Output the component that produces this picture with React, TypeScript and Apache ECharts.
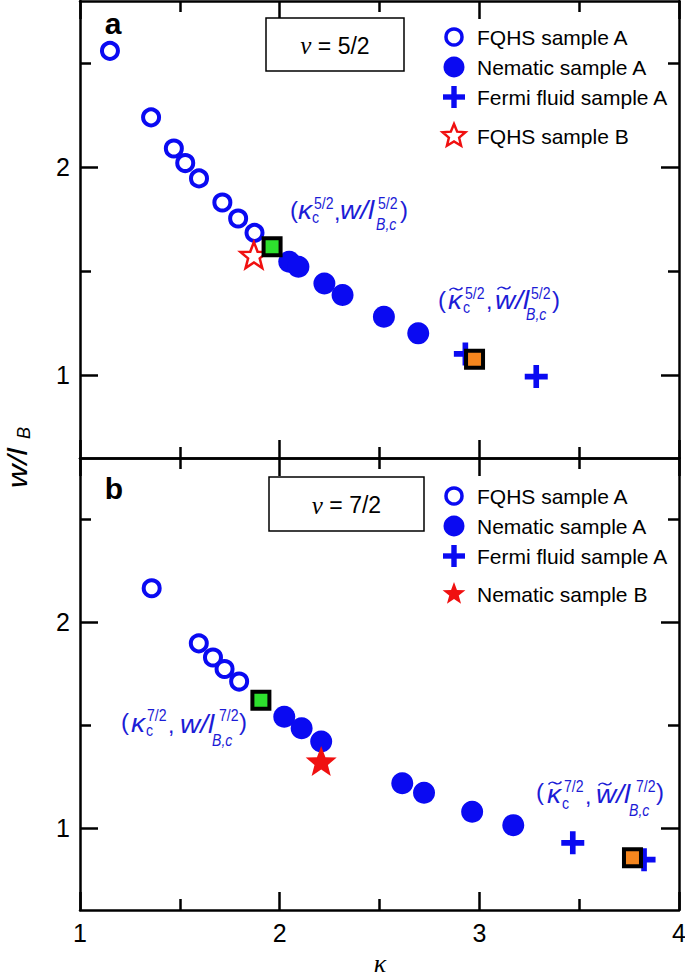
import React, { useEffect, useRef } from "react";
import * as echarts from "echarts";

// ---------- data (kappa, w/l_B) ----------
// panel a : nu = 5/2
const fqhsA_a = [[1.15, 2.56], [1.356, 2.24], [1.47, 2.09], [1.527, 2.02], [1.596, 1.946], [1.713, 1.83], [1.792, 1.753], [1.874, 1.684]];
const nematicA_a = [[2.048, 1.545], [2.094, 1.521], [2.224, 1.44], [2.315, 1.385], [2.522, 1.28], [2.694, 1.2]];
const fermiA_a = [[2.93, 1.101], [3.285, 0.992]];
const fqhsB_a = [[1.871, 1.577]];
const crit_a = [[1.962, 1.617]];
const critTilde_a = [[2.976, 1.075]];
// panel b : nu = 7/2
const fqhsA_b = [[1.359, 2.166], [1.595, 1.898], [1.666, 1.829], [1.724, 1.773], [1.797, 1.712]];
const nematicA_b = [[2.023, 1.541], [2.11, 1.485], [2.208, 1.42], [2.614, 1.217], [2.723, 1.171], [2.964, 1.078], [3.17, 1.013]];
const fermiA_b = [[3.468, 0.927], [3.825, 0.845]];
const nematicB_b = [[2.208, 1.325]];
const crit_b = [[1.906, 1.621]];
const critTilde_b = [[3.767, 0.854]];

const xTickValues = [1, 2, 3, 4];
const yTickLabels = [1, 2];
const yMinorTicks = [1.5, 2.5];
const legendA = ["FQHS sample A", "Nematic sample A", "Fermi fluid sample A", "FQHS sample B"];
const legendB = ["FQHS sample A", "Nematic sample A", "Fermi fluid sample A", "Nematic sample B"];

const BLUE = "#0a0af2";
const ANN = "#1c1cd6";
const RED = "#f01010";
const GREEN = "#2ee02e";
const ORANGE = "#f5861e";
const SANS = "'Liberation Sans', Arial, Helvetica, sans-serif";
const SERIF = "'Liberation Serif', 'Times New Roman', serif";

const STAR = "path://M0,-10L2.6,-3.3L9.511,-3.09L4.1,1.4L5.878,8.09L0,4.2L-5.878,8.09L-4.1,1.4L-9.511,-3.09L-2.6,-3.3Z";
const PLUS = "path://M8.5,0h5.5v8.5h8.5v5.5h-8.5v8.5h-5.5v-8.5h-8.5v-5.5h8.5z";

function starPts(cx: number, cy: number, R: number, r: number) {
  const pts: number[][] = [];
  for (let k = 0; k < 10; k++) {
    const a = (-90 + k * 36) * Math.PI / 180;
    const rr = k % 2 === 0 ? R : r;
    pts.push([cx + rr * Math.cos(a), cy + rr * Math.sin(a)]);
  }
  return pts;
}

const tStyle = (extra: any) => ({
  fontFamily: SANS, align: "left", verticalAlign: "middle", textAlign: "left", textVerticalAlign: "middle", ...extra,
});

type Tok = [string, number, number, number, boolean];
function tokens(list: Tok[]) {
  return list.map(([t, x, y, s, it]) => {
    const main = s >= 25 && t !== "(" && t !== ")" && t !== ",";
    const small = s < 20;
    return {
      type: "text", x, y, z: 50, scaleX: main ? 1.12 : small ? 0.88 : 1,
      style: tStyle({ text: t, fontSize: s, fontStyle: it ? "italic" : "normal", fill: ANN }),
    };
  });
}
function tildes(list: number[][]) {
  return list.map(([cx, cy]) => ({
    type: "bezierCurve", z: 50,
    shape: { x1: cx - 6.5, y1: cy + 1.5, x2: cx + 6.5, y2: cy - 1.5, cpx1: cx - 1.5, cpy1: cy - 5.5, cpx2: cx + 1.5, cpy2: cy + 5.5 },
    style: { stroke: ANN, lineWidth: 1.6, fill: null },
  }));
}

function legendGroup(names: string[], rows: number[], filledStar: boolean) {
  const mx = 454, tx = 477;
  const els: any[] = [
    { type: "circle", shape: { cx: mx, cy: rows[0], r: 8 }, style: { fill: "#fff", stroke: BLUE, lineWidth: 3.5 } },
    { type: "circle", shape: { cx: mx, cy: rows[1], r: 10.5 }, style: { fill: BLUE } },
    { type: "rect", shape: { x: mx - 11, y: rows[2] - 2.7, width: 22, height: 5.4 }, style: { fill: BLUE } },
    { type: "rect", shape: { x: mx - 2.7, y: rows[2] - 11, width: 5.4, height: 22 }, style: { fill: BLUE } },
    {
      type: "polygon", shape: { points: starPts(mx, rows[3], 12, filledStar ? 5 : 5.4) },
      style: filledStar ? { fill: RED } : { fill: "#fff", stroke: RED, lineWidth: 2.5 },
    },
  ];
  names.forEach((n, i) => {
    els.push({ type: "text", x: tx, y: rows[i], style: tStyle({ text: n, fontSize: 21, fill: "#000" }) });
  });
  return els;
}

function nuBox(x: number, y: number, w: number, h: number, label: string) {
  return [
    { type: "rect", shape: { x, y, width: w, height: h }, style: { fill: "#fff", stroke: "#000", lineWidth: 1.5 }, z: 40 },
    {
      type: "text", x: x + w / 2, y: y + h / 2 + 1, z: 41,
      style: {
        text: "{n|ν} = " + label, fontSize: 23, fontFamily: SANS, fill: "#000",
        align: "center", verticalAlign: "middle", textAlign: "center", textVerticalAlign: "middle",
        rich: { n: { fontFamily: SERIF, fontSize: 25, fontStyle: "italic", fill: "#000" } },
      },
    },
  ];
}

const axisLineStyle = { color: "#000", width: 2.5 };

function xAxisDef(gridIndex: number, position: string, showLabel: boolean) {
  return {
    type: "value", gridIndex, position, min: 1, max: 4, interval: 1,
    axisLine: { show: true, lineStyle: axisLineStyle },
    axisTick: { show: true, inside: true, length: 18, lineStyle: axisLineStyle },
    minorTick: { show: true, splitNumber: 2, length: 11, lineStyle: axisLineStyle },
    axisLabel: { show: showLabel, margin: 10, fontSize: 25, color: "#000", fontFamily: SANS, customValues: xTickValues },
    splitLine: { show: false }, minorSplitLine: { show: false },
  };
}
function yMajorDef(gridIndex: number, position: string, showLabel: boolean) {
  return {
    type: "value", gridIndex, position, min: 0.6, max: 2.8,
    axisLine: { show: true, lineStyle: axisLineStyle },
    axisTick: { show: true, inside: true, length: 18, customValues: yTickLabels, lineStyle: axisLineStyle },
    axisLabel: { show: showLabel, customValues: yTickLabels, margin: 10, fontSize: 25, color: "#000", fontFamily: SANS },
    splitLine: { show: false },
  };
}
function yMinorDef(gridIndex: number, position: string) {
  return {
    type: "value", gridIndex, position, min: 0.6, max: 2.8,
    axisLine: { show: false },
    axisTick: { show: true, inside: true, length: 11, customValues: yMinorTicks, lineStyle: axisLineStyle },
    axisLabel: { show: false },
    splitLine: { show: false },
  };
}

function panelSeries(xi: number, yi: number, fqhsA: number[][], nemA: number[][], fermi: number[][], starData: number[][], starName: string, starFilled: boolean, crit: number[][], critT: number[][]) {
  const base = { type: "scatter", xAxisIndex: xi, yAxisIndex: yi, silent: true };
  return [
    { ...base, name: "FQHS sample A", data: fqhsA, symbol: "circle", symbolSize: 16, itemStyle: { color: "#fff", borderColor: BLUE, borderWidth: 4, opacity: 1 }, z: 2 },
    { ...base, name: "Nematic sample A", data: nemA, symbol: "circle", symbolSize: 22, itemStyle: { color: BLUE, opacity: 1 }, z: 3 },
    { ...base, name: "Fermi fluid sample A", data: fermi, symbol: PLUS, symbolSize: 23, itemStyle: { color: BLUE, opacity: 1 }, z: 3 },
    {
      ...base, name: starName, data: starData, symbol: STAR, symbolSize: starFilled ? [31, 30] : [27, 26],
      itemStyle: starFilled ? { color: RED, opacity: 1 } : { color: "#fff", borderColor: RED, borderWidth: 2.5, opacity: 1 }, z: 4,
    },
    { ...base, name: "critical", data: crit, symbol: "rect", symbolSize: 17, itemStyle: { color: GREEN, borderColor: "#000", borderWidth: 4, opacity: 1 }, z: 5 },
    { ...base, name: "critical tilde", data: critT, symbol: "rect", symbolSize: 17, itemStyle: { color: ORANGE, borderColor: "#000", borderWidth: 4, opacity: 1 }, z: 5 },
  ];
}

export default function App() {
  const ref = useRef<HTMLDivElement>(null);
  useEffect(() => {
    document.body.style.margin = "0";
    if (!ref.current) return;
    const chart = echarts.init(ref.current, undefined, { renderer: "svg" });

    const annA1: Tok[] = [
      ["(", 290, 209, 24, false], ["κ", 298, 211, 25, true], ["5/2", 314, 203, 16, false], ["c", 312, 217, 16, false],
      [",", 334, 212, 23, false], ["w/l", 340, 211, 25, true], ["5/2", 378, 203, 16, false], ["B,c", 376, 224, 16, true], [")", 400, 209, 24, false],
    ];
    const annA2: Tok[] = [
      ["(", 438, 299, 24, false], ["κ", 448, 301, 25, true], ["5/2", 465, 293, 16, false], ["c", 463, 307, 16, false],
      [",", 486, 301, 23, false], ["w/l", 495, 301, 25, true], ["5/2", 531, 293, 16, false], ["B,c", 526, 314, 16, true], [")", 552, 299, 24, false],
    ];
    const annB1: Tok[] = [
      ["(", 121, 721, 24, false], ["κ", 131, 724, 25, true], ["7/2", 147, 715, 16, false], ["c", 146, 730, 16, false],
      [",", 168, 725, 23, false], ["w/l", 180, 725, 25, true], ["7/2", 219, 715, 16, false], ["B,c", 212, 740, 16, true], [")", 239, 721, 24, false],
    ];
    const annB2: Tok[] = [
      ["(", 536, 791, 24, false], ["κ", 547, 795, 25, true], ["7/2", 564, 786, 16, false], ["c", 562, 803, 16, false],
      [",", 585, 796, 23, false], ["w/l", 596, 795, 25, true], ["7/2", 636, 786, 16, false], ["B,c", 629, 810, 16, true], [")", 656, 791, 24, false],
    ];

    const graphic: any[] = [
      ...nuBox(266, 18, 138, 53, "5/2"),
      ...nuBox(269, 477, 155, 54, "7/2"),
      ...legendGroup(legendA, [37, 67, 97, 136], false),
      ...legendGroup(legendB, [496, 526, 556, 594], true),
      ...tokens(annA1), ...tokens(annA2), ...tokens(annB1), ...tokens(annB2),
      ...tildes([[456, 289], [504, 288], [555, 783], [605, 784]]),
      { type: "text", x: 113, y: 23, style: { text: "a", fontSize: 30, fontWeight: "bold", fontFamily: SANS, fill: "#000", align: "center", verticalAlign: "middle", textAlign: "center", textVerticalAlign: "middle" } },
      { type: "text", x: 114, y: 488, style: { text: "b", fontSize: 30, fontWeight: "bold", fontFamily: SANS, fill: "#000", align: "center", verticalAlign: "middle", textAlign: "center", textVerticalAlign: "middle" } },
      { type: "text", x: 380, y: 963, style: { text: "κ", fontSize: 26, fontStyle: "italic", fontFamily: SERIF, fill: "#000", align: "center", verticalAlign: "middle", textAlign: "center", textVerticalAlign: "middle" } },
      {
        type: "group", x: 17, y: 457, rotation: Math.PI / 2,
        children: [
          { type: "text", x: -31, y: 0, scaleX: 1.2, style: tStyle({ text: "w/l", fontSize: 27, fontStyle: "italic", fill: "#000" }) },
          { type: "text", x: 18, y: 7, style: tStyle({ text: "B", fontSize: 18, fontStyle: "italic", fill: "#000" }) },
        ],
      },
    ];

    chart.setOption({
      animation: false,
      backgroundColor: "#fff",
      grid: [
        { left: 80, top: 1, width: 599, height: 457, outerBoundsMode: "none", containLabel: false },
        { left: 80, top: 458, width: 599, height: 452, outerBoundsMode: "none", containLabel: false },
      ],
      xAxis: [
        xAxisDef(0, "bottom", false), xAxisDef(0, "top", false),
        xAxisDef(1, "bottom", true), xAxisDef(1, "top", false),
      ],
      yAxis: [
        yMajorDef(0, "left", true), yMinorDef(0, "left"), yMajorDef(0, "right", false), yMinorDef(0, "right"),
        yMajorDef(1, "left", true), yMinorDef(1, "left"), yMajorDef(1, "right", false), yMinorDef(1, "right"),
      ],
      series: [
        ...panelSeries(0, 0, fqhsA_a, nematicA_a, fermiA_a, fqhsB_a, "FQHS sample B", false, crit_a, critTilde_a),
        ...panelSeries(2, 4, fqhsA_b, nematicA_b, fermiA_b, nematicB_b, "Nematic sample B", true, crit_b, critTilde_b),
      ],
      graphic,
    });
    return () => chart.dispose();
  }, []);
  return <div ref={ref} style={{ width: 685, height: 979 }} />;
}
